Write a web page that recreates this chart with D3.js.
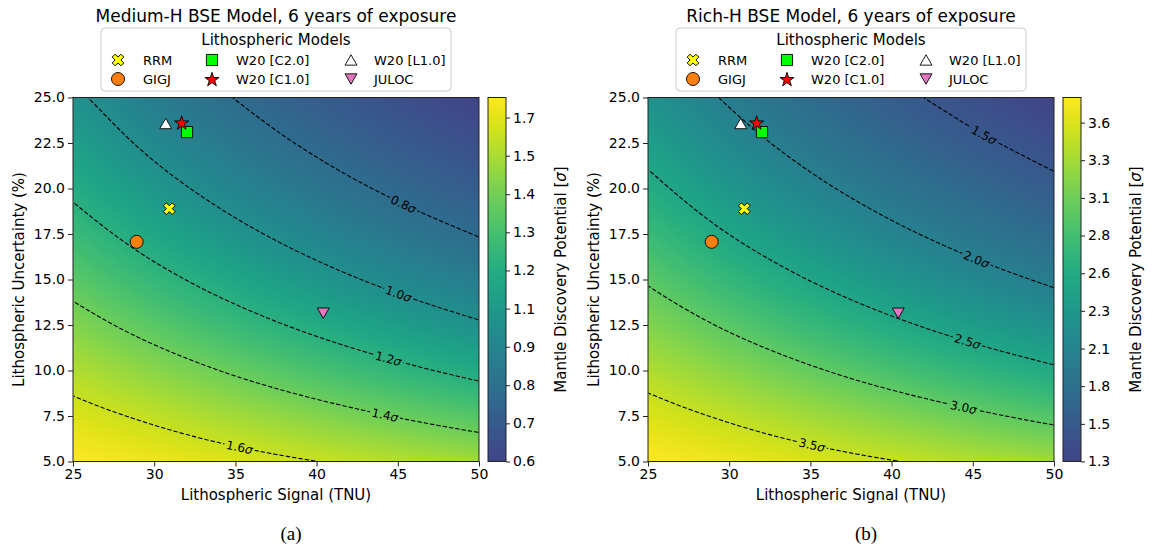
<!DOCTYPE html>
<html>
<head>
<meta charset="utf-8">
<script src="https://cdn.jsdelivr.net/npm/d3@7"></script>
<style>
  body { margin: 0; background: #fff; }
  svg { font-family: "DejaVu Sans", sans-serif; }
</style>
</head>
<body>
<svg id="fig" width="1153" height="552"></svg>
<script>
// grid the maps were read on
const signalGrid = [25, 30, 35, 40, 45, 50];
const uncGrid = [5, 7.5, 10, 12.5, 15, 17.5, 20, 22.5, 25];

// discovery potential (sigma), one row per uncertainty, one column per signal
const mediumH = [
  [1.7140, 1.6786, 1.6406, 1.6010, 1.5601, 1.5186],
  [1.6387, 1.5791, 1.5175, 1.4554, 1.3940, 1.3343],
  [1.5482, 1.4656, 1.3839, 1.3053, 1.2311, 1.1617],
  [1.4512, 1.3502, 1.2548, 1.1669, 1.0868, 1.0146],
  [1.3542, 1.2404, 1.1373, 1.0456, 0.9646, 0.8933],
  [1.2613, 1.1397, 1.0335, 0.9416, 0.8624, 0.7940],
  [1.1748, 1.0493, 0.9430, 0.8532, 0.7772, 0.7124],
  [1.0954, 0.9690, 0.8645, 0.7779, 0.7056, 0.6447],
  [1.0232, 0.8980, 0.7965, 0.7136, 0.6451, 0.5880]
];
const richH = [
  [3.7661, 3.6853, 3.5995, 3.5101, 3.4185, 3.3258],
  [3.5992, 3.4656, 3.3279, 3.1897, 3.0536, 2.9215],
  [3.3990, 3.2150, 3.0338, 2.8600, 2.6960, 2.5431],
  [3.1847, 2.9607, 2.7498, 2.5559, 2.3796, 2.2207],
  [2.9707, 2.7189, 2.4915, 2.2896, 2.1116, 1.9550],
  [2.7660, 2.4975, 2.2635, 2.0617, 1.8877, 1.7376],
  [2.5754, 2.2989, 2.0650, 1.8678, 1.7009, 1.5590],
  [2.4007, 2.1226, 1.8929, 1.7029, 1.5443, 1.4108],
  [2.2421, 1.9666, 1.7437, 1.5619, 1.4118, 1.2866]
];

const mediumLevels = [0.8, 1.0, 1.2, 1.4, 1.6];
const mediumLabelAt = [[45.34, 19.09], [45.03, 14.24], [44.42, 10.64], [44.21, 7.56], [35.28, 6.01]];
const richLevels = [1.5, 2.0, 2.5, 3.0, 3.5];
const richLabelAt = [[45.69, 22.93], [45.18, 16.07], [44.67, 11.68], [44.46, 8.02], [35.11, 6.01]];

const mediumCbTicks = [0.588, 0.706, 0.824, 0.943, 1.061, 1.179, 1.297, 1.415, 1.534, 1.652];
const mediumCbLabels = ["0.6", "0.7", "0.8", "0.9", "1.1", "1.2", "1.3", "1.4", "1.5", "1.7"];
const richCbTicks = [1.287, 1.543, 1.800, 2.056, 2.313, 2.569, 2.826, 3.082, 3.339, 3.595];
const richCbLabels = ["1.3", "1.5", "1.8", "2.1", "2.3", "2.6", "2.8", "3.1", "3.3", "3.6"];

const xTicks = [25, 30, 35, 40, 45, 50];
const yTicks = [5, 7.5, 10, 12.5, 15, 17.5, 20, 22.5, 25];

// lithospheric models
const modelNames = ["RRM", "GIGJ", "W20 [C2.0]", "W20 [C1.0]", "W20 [L1.0]", "JULOC"];
const modelSignal = [30.93, 28.92, 32.02, 31.69, 30.71, 40.41];
const modelUnc = [18.89, 17.07, 23.10, 23.63, 23.57, 13.15];

const titles = ["Medium-H BSE Model, 6 years of exposure", "Rich-H BSE Model, 6 years of exposure"];
const captions = ["(a)", "(b)"];

// marker looks (matplotlib style)
const markerStyle = [
  { type: d3.symbolCross, size: 85, rot: 45, fill: "#ffff00", dy: 0 },
  { type: d3.symbolCircle, size: 133, rot: 0, fill: "#ff7f0e", dy: 0 },
  { type: d3.symbolSquare, size: 125, rot: 0, fill: "#00ff00", dy: 0 },
  { type: d3.symbolStar, size: 62, rot: 0, fill: "#ff0000", dy: 0.8 },
  { type: d3.symbolTriangle, size: 62, rot: 0, fill: "#ffffff", dy: 1.7 },
  { type: d3.symbolTriangle, size: 62, rot: 180, fill: "#e377c2", dy: -1.7 }
];

const svg = d3.select("#fig");
const W = 406, H = 364, TOP = 97.5;

// value with linear extension beyond grid edges
function val(g, j, i) {
  const nJ = g.length, nI = g[0].length;
  if (i < 0) return 2 * val(g, j, 0) - val(g, j, 1);
  if (i > nI - 1) return 2 * val(g, j, nI - 1) - val(g, j, nI - 2);
  if (j < 0) return 2 * val(g, 0, i) - val(g, 1, i);
  if (j > nJ - 1) return 2 * val(g, nJ - 1, i) - val(g, nJ - 2, i);
  return g[j][i];
}
function cr(p0, p1, p2, p3, t) {
  return p1 + 0.5 * t * (p2 - p0 + t * (2 * p0 - 5 * p1 + 4 * p2 - p3 + t * (3 * (p1 - p2) + p3 - p0)));
}
function bicubic(g, fj, fi) {
  const nJ = g.length, nI = g[0].length;
  const i0 = Math.max(0, Math.min(Math.floor(fi), nI - 2)), ti = fi - i0;
  const j0 = Math.max(0, Math.min(Math.floor(fj), nJ - 2)), tj = fj - j0;
  const rows = [];
  for (let dj = -1; dj <= 2; dj++) {
    const j = j0 + dj;
    rows.push(cr(val(g, j, i0 - 1), val(g, j, i0), val(g, j, i0 + 1), val(g, j, i0 + 2), ti));
  }
  return cr(rows[0], rows[1], rows[2], rows[3], tj);
}

// split d3.contours rings into open isolines (drop the frame edges)
function isoLines(multi) {
  const lines = [];
  const onEdge = q => q[0] <= 0 || q[0] >= W || q[1] <= 0 || q[1] >= H;
  multi.coordinates.forEach(poly => poly.forEach(ring => {
    const pts = ring.slice(0, -1);
    const start = pts.findIndex(onEdge);
    if (start < 0) { lines.push(ring); return; }
    let cur = [];
    for (let k = 0; k <= pts.length; k++) {
      const q = pts[(start + k) % pts.length];
      if (onEdge(q)) { if (cur.length > 1) lines.push(cur); cur = []; }
      else cur.push(q);
    }
    if (cur.length > 1) lines.push(cur);
  }));
  return lines;
}

function drawPanel(p, idx) {
  const L = p.left;
  const g = svg.append("g");
  const x = d3.scaleLinear().domain([25, 50]).range([L, L + W]);
  const y = d3.scaleLinear().domain([5, 25]).range([TOP + H, TOP]);
  const gi = d3.scaleLinear().domain(signalGrid).range(d3.range(signalGrid.length));
  const gj = d3.scaleLinear().domain(uncGrid).range(d3.range(uncGrid.length));
  const flat = p.grid.flat();
  const vmin = d3.min(flat), vmax = d3.max(flat);
  const color = d3.scaleSequential(t => d3.interpolateViridis(0.2 + 0.8 * t)).domain([vmin, vmax]).clamp(true);

  // sample the map at every pixel centre
  const field = new Array(W * H);
  for (let r = 0; r < H; r++) {
    const fj = gj(y.invert(TOP + r + 0.5));
    for (let c = 0; c < W; c++) {
      field[r * W + c] = bicubic(p.grid, fj, gi(x.invert(L + c + 0.5)));
    }
  }

  // heatmap
  const lut = d3.range(1024).map(k => d3.rgb(color(vmin + (vmax - vmin) * k / 1023)));
  const canvas = document.createElement("canvas");
  canvas.width = W; canvas.height = H;
  const ctx = canvas.getContext("2d");
  const img = ctx.createImageData(W, H);
  field.forEach((v, k) => {
    const c = lut[Math.max(0, Math.min(1023, Math.round((v - vmin) / (vmax - vmin) * 1023)))];
    img.data[4 * k] = c.r; img.data[4 * k + 1] = c.g; img.data[4 * k + 2] = c.b; img.data[4 * k + 3] = 255;
  });
  ctx.putImageData(img, 0, 0);
  g.append("image").attr("x", L).attr("y", TOP).attr("width", W).attr("height", H)
    .attr("preserveAspectRatio", "none").attr("href", canvas.toDataURL());

  // contours + inline labels
  const contours = d3.contours().size([W, H]).thresholds(p.levels)(field);
  const mask = svg.append("defs").append("mask").attr("id", "gap" + idx)
    .attr("maskUnits", "userSpaceOnUse").attr("x", 0).attr("y", 0).attr("width", 1153).attr("height", 552);
  mask.append("rect").attr("width", 1153).attr("height", 552).attr("fill", "#fff");
  const cg = g.append("g").attr("mask", "url(#gap" + idx + ")");
  const labG = g.append("g");
  const line = d3.line();
  contours.forEach((ct, k) => {
    const lines = isoLines(ct).map(l => l.map(q => [L + q[0], TOP + q[1]]));
    lines.forEach(l => {
      cg.append("path").attr("d", line(l)).attr("fill", "none").attr("stroke", "#000")
        .attr("stroke-width", 1.1).attr("stroke-dasharray", "4.4,2");
    });
    const tx = x(p.labelAt[k][0]), ty = y(p.labelAt[k][1]);
    let best = null, bd = Infinity;
    lines.forEach(l => l.forEach((q, n) => {
      const d = (q[0] - tx) ** 2 + (q[1] - ty) ** 2;
      if (d < bd) { bd = d; best = { l, n }; }
    }));
    if (!best) return;
    const a = best.l[Math.max(0, best.n - 5)], b = best.l[Math.min(best.l.length - 1, best.n + 5)];
    let ang = Math.atan2(b[1] - a[1], b[0] - a[0]) * 180 / Math.PI;
    if (ang > 90) ang -= 180;
    if (ang < -90) ang += 180;
    const pt = best.l[best.n];
    const t = labG.append("text")
      .attr("transform", `translate(${pt[0]},${pt[1]}) rotate(${ang})`)
      .attr("text-anchor", "middle").attr("dy", "0.36em")
      .attr("font-size", 12).attr("fill", "#000");
    t.append("tspan").text(d3.format(".1f")(p.levels[k]));
    t.append("tspan").attr("font-style", "italic").text("σ");
    const tw = t.node().getComputedTextLength() + 4;
    mask.append("rect").attr("x", -tw / 2).attr("y", -6).attr("width", tw).attr("height", 12)
      .attr("fill", "#000").attr("transform", `translate(${pt[0]},${pt[1]}) rotate(${ang})`);
  });

  // model markers
  const mark = (sel, m) => sel.append("path")
    .attr("d", d3.symbol().type(m.type).size(m.size)())
    .attr("fill", m.fill).attr("stroke", "#000").attr("stroke-width", 0.9);
  modelNames.forEach((name, k) => {
    const m = markerStyle[k];
    mark(g, m).attr("transform", `translate(${x(modelSignal[k])},${y(modelUnc[k]) + m.dy}) rotate(${m.rot})`);
  });

  // frame and axes
  g.append("rect").attr("x", L).attr("y", TOP).attr("width", W).attr("height", H)
    .attr("fill", "none").attr("stroke", "#222").attr("stroke-width", 1);
  const xa = g.append("g").attr("transform", `translate(0,${TOP + H})`)
    .call(d3.axisBottom(x).tickValues(xTicks).tickFormat(d3.format("d")).tickSize(5).tickPadding(3));
  const ya = g.append("g").attr("transform", `translate(${L},0)`)
    .call(d3.axisLeft(y).tickValues(yTicks).tickFormat(d3.format(".1f")).tickSize(5).tickPadding(3));
  [xa, ya].forEach(a => {
    a.select(".domain").remove();
    a.selectAll("text").attr("font-size", 14).attr("font-family", "DejaVu Sans").attr("fill", "#000");
    a.selectAll("line").attr("stroke", "#222");
  });
  g.append("text").attr("x", L + W / 2).attr("y", 500).attr("text-anchor", "middle")
    .attr("font-size", 15).text("Lithospheric Signal (TNU)");
  g.append("text").attr("transform", `translate(${L - 49},${TOP + H / 2}) rotate(-90)`)
    .attr("text-anchor", "middle").attr("font-size", 15).text("Lithospheric Uncertainty (%)");
  g.append("text").attr("x", L + 203).attr("y", 22).attr("text-anchor", "middle")
    .attr("font-size", 17).text(p.title);

  // colorbar
  const cbx = L + 415, cbw = 18;
  const cy = d3.scaleLinear().domain([vmin, vmax]).range([TOP + H, TOP]);
  const grad = svg.select("defs").append("linearGradient").attr("id", "cb" + idx)
    .attr("x1", 0).attr("y1", 1).attr("x2", 0).attr("y2", 0);
  d3.range(21).forEach(k => grad.append("stop").attr("offset", k / 20)
    .attr("stop-color", color(vmin + (vmax - vmin) * k / 20)));
  g.append("rect").attr("x", cbx).attr("y", TOP).attr("width", cbw).attr("height", H)
    .attr("fill", `url(#cb${idx})`).attr("stroke", "#222").attr("stroke-width", 1);
  const ca = g.append("g").attr("transform", `translate(${cbx + cbw},0)`)
    .call(d3.axisRight(cy).tickValues(p.cbTicks).tickFormat((d, i) => p.cbLabels[i]).tickSize(4).tickPadding(3));
  ca.select(".domain").remove();
  ca.selectAll("text").attr("font-size", 14).attr("font-family", "DejaVu Sans").attr("fill", "#000");
  ca.selectAll("line").attr("stroke", "#222");
  const cl = g.append("text").attr("transform", `translate(${cbx + 78},${TOP + H / 2}) rotate(-90)`)
    .attr("text-anchor", "middle").attr("font-size", 15);
  cl.append("tspan").text("Mantle Discovery Potential [");
  cl.append("tspan").attr("font-style", "italic").text("σ");
  cl.append("tspan").text("]");

  // legend
  const lg = g.append("g");
  lg.append("rect").attr("x", L + 28).attr("y", 28).attr("width", 350).attr("height", 63).attr("rx", 4)
    .attr("fill", "#fff").attr("fill-opacity", 0.85).attr("stroke", "#cccccc").attr("stroke-width", 1);
  lg.append("text").attr("x", L + 203).attr("y", 45).attr("text-anchor", "middle")
    .attr("font-size", 15).text("Lithospheric Models");
  const colMark = [45, 139, 278], colText = [70, 163, 301], rowY = [60, 79];
  modelNames.forEach((name, k) => {
    const col = Math.floor(k / 2), row = k % 2, m = markerStyle[k];
    mark(lg, m).attr("transform", `translate(${L + colMark[col]},${rowY[row] + m.dy}) rotate(${m.rot})`);
    lg.append("text").attr("x", L + colText[col]).attr("y", rowY[row] + 4.5)
      .attr("font-size", 13).text(name);
  });

  svg.append("text").attr("x", L + 218).attr("y", 540).attr("text-anchor", "middle")
    .attr("font-family", "Liberation Serif").attr("font-size", 19).text(p.caption);
}

svg.append("defs");
[
  { left: 73, grid: mediumH, levels: mediumLevels, labelAt: mediumLabelAt,
    cbTicks: mediumCbTicks, cbLabels: mediumCbLabels, title: titles[0], caption: captions[0] },
  { left: 648, grid: richH, levels: richLevels, labelAt: richLabelAt,
    cbTicks: richCbTicks, cbLabels: richCbLabels, title: titles[1], caption: captions[1] }
].forEach(drawPanel);
</script>
</body>
</html>
